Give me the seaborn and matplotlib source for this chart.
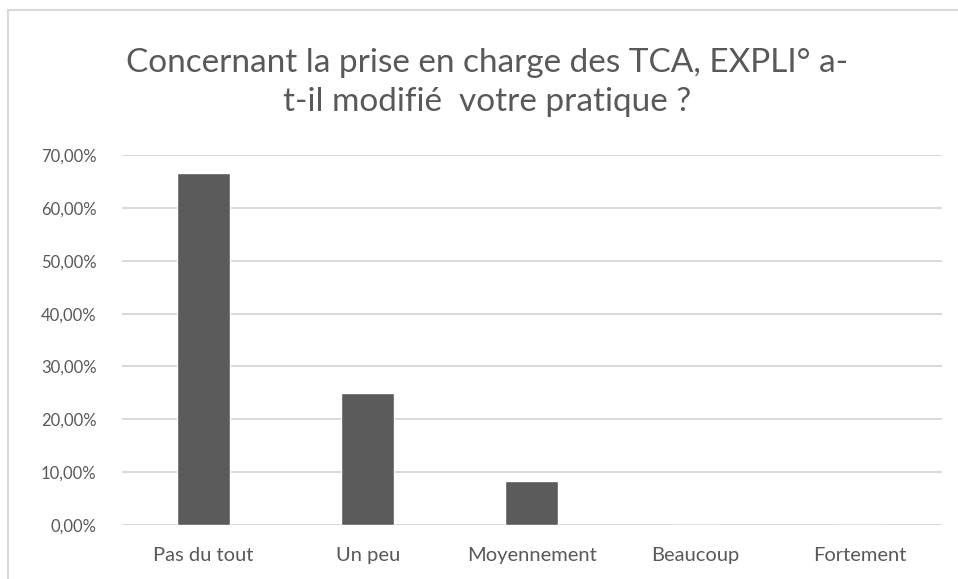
import matplotlib
matplotlib.use("Agg")
import matplotlib.pyplot as plt
import seaborn as sns
import pandas as pd
from matplotlib.patches import Rectangle
from matplotlib.ticker import FuncFormatter

categories = ["Pas du tout", "Un peu", "Moyennement", "Beaucoup", "Fortement"]
shares = [0.6667, 0.25, 0.0833, 0.0, 0.0]
title = "Concernant la prise en charge des TCA, EXPLI° a-\nt-il modifié  votre pratique ?"

df = pd.DataFrame({"reponse": categories, "part": shares})

sns.set_theme(style="white")
plt.rcParams["font.family"] = ["Lato", "DejaVu Sans"]

text_grey = "#595959"
fig = plt.figure(figsize=(9.58, 5.79), dpi=100)
ax = fig.add_axes([0.127, 0.0933, 0.856, 0.6387])

sns.barplot(data=df, x="reponse", y="part", color="#5b5b5b", saturation=1,
            width=0.32, ax=ax, zorder=3)

ax.set_ylim(0, 0.70)
ax.set_yticks([i / 10 for i in range(8)])
ax.yaxis.set_major_formatter(FuncFormatter(lambda v, _: f"{v*100:.2f}%".replace(".", ",")))
ax.grid(axis="y", color="#d9d9d9", linewidth=1.4, zorder=0)
ax.set_axisbelow(True)
for s in ax.spines.values():
    s.set_visible(False)
ax.set_xlabel("")
ax.set_ylabel("")
ax.tick_params(axis="both", length=0, colors=text_grey)
ax.tick_params(axis="y", pad=18, labelsize=12)
ax.tick_params(axis="x", pad=16, labelsize=14.5)

fig.text(0.508, 0.858, title, ha="center", va="center", fontsize=24,
         color=text_grey, linespacing=1.38)

# light chart-area frame
fig.patches.append(Rectangle((8 / 958, -0.05), 1.0, 1 - 10 / 579 + 0.05,
                             transform=fig.transFigure, fill=False,
                             edgecolor="#d9d9d9", linewidth=1.5))

fig.savefig("out.png", dpi=100, facecolor="white")
